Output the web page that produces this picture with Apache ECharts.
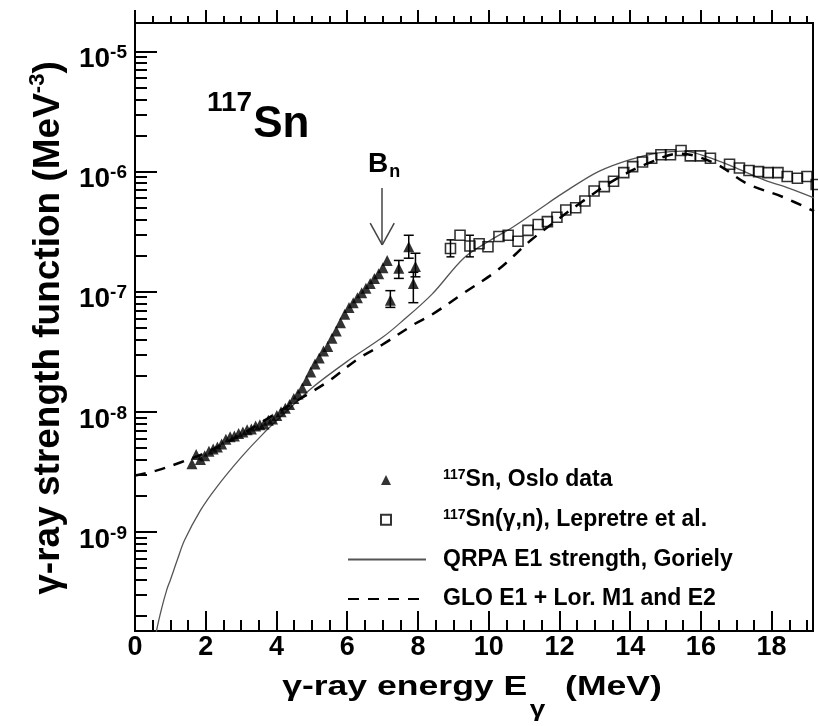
<!DOCTYPE html>
<html>
<head>
<meta charset="utf-8">
<script src="https://cdn.jsdelivr.net/npm/echarts@6/dist/echarts.min.js"></script>
<style>
  html, body { margin: 0; padding: 0; background: #fff; }
  #main { width: 818px; height: 726px; }
</style>
</head>
<body>
<div id="main"></div>
<script>
// 117Sn, Oslo data (E in MeV, f in MeV^-3)
const osloE = [1.61, 1.73, 1.85, 1.97, 2.09, 2.21, 2.33, 2.45, 2.57, 2.69, 2.81, 2.93, 3.05, 3.17, 3.29, 3.41,
  3.53, 3.65, 3.77, 3.89, 4.01, 4.13, 4.25, 4.37, 4.49, 4.61, 4.73, 4.85, 4.97, 5.09, 5.21, 5.33,
  5.45, 5.57, 5.69, 5.81, 5.93, 6.05, 6.17, 6.29, 6.41, 6.53, 6.65, 6.77, 6.89, 7.01, 7.13];
const osloF = [3.7e-9, 4.4e-9, 4.0e-9, 4.3e-9, 4.7e-9, 4.9e-9, 5.1e-9, 5.4e-9, 5.9e-9, 6.2e-9, 6.3e-9, 6.6e-9,
  6.8e-9, 7.1e-9, 7.2e-9, 7.6e-9, 7.8e-9, 7.9e-9, 8.5e-9, 8.7e-9, 9.3e-9, 1.0e-8, 1.07e-8, 1.15e-8,
  1.29e-8, 1.41e-8, 1.58e-8, 1.82e-8, 2.14e-8, 2.5e-8, 2.8e-8, 3.2e-8, 3.5e-8, 4.1e-8, 4.7e-8, 5.5e-8,
  6.5e-8, 7.4e-8, 8.1e-8, 8.9e-8, 9.8e-8, 1.07e-7, 1.17e-7, 1.29e-7, 1.41e-7, 1.58e-7, 1.82e-7];
// Oslo points above Bn, with error bars
const osloHiE = [7.22, 7.46, 7.74, 7.87, 7.93];
const osloHiF = [8.5e-8, 1.57e-7, 2.37e-7, 1.17e-7, 1.62e-7];
const osloHiLo = [7.4e-8, 1.29e-7, 1.9e-7, 8.1e-8, 1.33e-7];
const osloHiUp = [1.02e-7, 1.82e-7, 2.95e-7, 1.45e-7, 2.09e-7];

// 117Sn(g,n), Lepretre et al.
const lepE = [8.92, 9.19, 9.47, 9.73, 9.98, 10.29, 10.55, 10.83, 11.11, 11.40, 11.66, 11.93, 12.18, 12.46,
  12.72, 12.98, 13.27, 13.53, 13.82, 14.07, 14.35, 14.61, 14.87, 15.14, 15.44, 15.70, 15.99, 16.27,
  16.81, 17.09, 17.36, 17.63, 17.90, 18.18, 18.44, 18.73, 19.00, 19.26];
const lepF = [2.29e-7, 2.95e-7, 2.4e-7, 2.51e-7, 2.37e-7, 2.88e-7, 2.95e-7, 2.63e-7, 3.24e-7, 3.63e-7, 3.83e-7,
  4.17e-7, 4.79e-7, 5.0e-7, 5.69e-7, 6.9e-7, 7.5e-7, 8.3e-7, 9.8e-7, 1.10e-6, 1.20e-6, 1.29e-6, 1.38e-6,
  1.38e-6, 1.50e-6, 1.35e-6, 1.35e-6, 1.29e-6, 1.15e-6, 1.07e-6, 1.02e-6, 1.0e-6, 9.8e-7, 9.8e-7, 9.1e-7,
  8.8e-7, 9.1e-7, 7.8e-7];
const lepErrE = [8.92, 9.47];
const lepErrLo = [1.95e-7, 1.95e-7];
const lepErrUp = [2.7e-7, 2.95e-7];

// QRPA E1 strength, Goriely
const qrpaE = [0.55, 0.61, 0.75, 0.9, 1.0, 1.2, 1.4, 1.85, 2.3, 3.0, 3.6, 4.3, 5.0, 6.0, 7.0, 7.5, 8.4, 9.3,
  10.0, 10.7, 11.4, 12.1, 13.1, 14.0, 14.8, 15.5, 16.2, 16.9, 17.8, 18.5, 19.2];
const qrpaF = [1.12e-10, 1.51e-10, 2.29e-10, 3.31e-10, 3.98e-10, 5.89e-10, 8.51e-10, 1.51e-9, 2.34e-9, 4.17e-9,
  6.46e-9, 1.02e-8, 1.58e-8, 2.63e-8, 4.17e-8, 5.5e-8, 9.55e-8, 1.91e-7, 2.63e-7, 3.47e-7, 4.79e-7,
  6.61e-7, 1.0e-6, 1.26e-6, 1.43e-6, 1.48e-6, 1.32e-6, 1.10e-6, 8.5e-7, 7.24e-7, 6.03e-7];

// GLO E1 + Lor. M1 and E2
const gloE = [0, 0.6, 1.3, 2.0, 3.0, 4.0, 4.9, 5.5, 6.3, 7.0, 7.9, 8.4, 9.3, 10.25, 11.2, 11.95, 12.6, 13.55,
  14.5, 15.4, 16.4, 17.3, 18.3, 19.2];
const gloF = [2.95e-9, 3.24e-9, 3.8e-9, 4.57e-9, 6.46e-9, 9.77e-9, 1.41e-8, 1.82e-8, 2.75e-8, 3.63e-8, 5.37e-8,
  6.46e-8, 9.77e-8, 1.51e-7, 2.69e-7, 3.98e-7, 5.5e-7, 8.5e-7, 1.17e-6, 1.41e-6, 1.17e-6, 7.94e-7,
  6.17e-7, 4.68e-7];

// Bn arrow (E, top, tip) and arrow-head base
const bnE = 6.99;
const bnTop = 7.3e-7, bnTip = 2.45e-7, bnHead = 3.73e-7, bnHalf = 0.34;

// axes
const xMax = 19.17;
const xTicks = [0, 2, 4, 6, 8, 10, 12, 14, 16, 18];
const yDecades = [-9, -8, -7, -6, -5];   // log10 of 10^-9 .. 10^-5
const yMin = -9.825, yMax = -4.763;

const FF = '"Liberation Sans", Arial, Helvetica, sans-serif';
const lg = v => Math.log10(v);
const pts = (xs, ys) => xs.map((x, i) => [x, lg(ys[i])]);

let xMinor = [];
for (let i = 1; i * 0.5 <= xMax; i++) if (i % 4) xMinor.push(i * 0.5);
let yMinor = [];
for (let n = -10; n <= -5; n++) {
  for (let k = 2; k <= 9; k++) {
    let v = n + Math.log10(k);
    if (v > yMin && v < yMax) yMinor.push(v);
  }
}

function errBar(half) {
  return function (params, api) {
    let x = api.value(0);
    let a = api.coord([x, api.value(1)]);
    let b = api.coord([x, api.value(2)]);
    let st = { stroke: '#000', lineWidth: 1.5 };
    return {
      type: 'group',
      children: [
        { type: 'line', shape: { x1: a[0], y1: a[1], x2: b[0], y2: b[1] }, style: st },
        { type: 'line', shape: { x1: a[0] - half, y1: a[1], x2: a[0] + half, y2: a[1] }, style: st },
        { type: 'line', shape: { x1: b[0] - half, y1: b[1], x2: b[0] + half, y2: b[1] }, style: st }
      ]
    };
  };
}

const tickStyle = { color: '#000', width: 2 };
const baseX = { type: 'value', min: 0, max: xMax, axisLine: { show: false }, splitLine: { show: false } };
const baseY = { type: 'value', min: yMin, max: yMax, axisLine: { show: false }, splitLine: { show: false } };

const legendText = {
  'Oslo': '{sup|117}Sn, Oslo data',
  'Lepretre': '{sup|117}Sn(γ,n), Lepretre et al.',
  'QRPA': 'QRPA E1 strength, Goriely',
  'GLO': 'GLO E1 + Lor. M1 and E2'
};
const legendFont = {
  fontSize: 23, fontWeight: 'bold', fontFamily: FF, color: '#000', lineHeight: 24,
  rich: {
    sup: { fontSize: 14, fontWeight: 'bold', fontFamily: FF, color: '#000', verticalAlign: 'top', lineHeight: 24 }
  }
};
const noDot = { color: 'rgba(0,0,0,0)', borderWidth: 0, opacity: 0 };

const arrowSeg = (a, b) => [{ coord: a }, { coord: b }];

let option = {
  animation: false,
  backgroundColor: '#fff',
  grid: {
    left: 135, right: 5, top: 23, bottom: 95,
    show: true, borderColor: '#000', borderWidth: 2, backgroundColor: 'transparent'
  },
  xAxis: [
    Object.assign({}, baseX, {
      position: 'bottom',
      axisTick: { inside: true, length: 20, customValues: xTicks, lineStyle: tickStyle },
      axisLabel: { customValues: xTicks, fontSize: 27, fontWeight: 'bold', fontFamily: FF, color: '#000', margin: 3 }
    }),
    Object.assign({}, baseX, {
      position: 'bottom',
      axisTick: { inside: true, length: 11, customValues: xMinor, lineStyle: tickStyle },
      axisLabel: { show: false }
    }),
    Object.assign({}, baseX, {
      position: 'top',
      axisTick: { inside: false, length: 13, customValues: xTicks, lineStyle: tickStyle },
      axisLabel: { show: false }
    }),
    Object.assign({}, baseX, {
      position: 'top',
      axisTick: { inside: false, length: 7, customValues: xMinor, lineStyle: tickStyle },
      axisLabel: { show: false }
    })
  ],
  yAxis: [
    Object.assign({}, baseY, {
      position: 'left',
      axisTick: { inside: true, length: 22, customValues: yDecades, lineStyle: tickStyle },
      axisLabel: {
        customValues: yDecades,
        margin: 8,
        padding: [14, 0, 0, 0],
        formatter: v => '{b|10}{s|' + v + '}',
        rich: {
          b: { fontSize: 28, lineHeight: 30, fontWeight: 'bold', fontFamily: FF, color: '#000', verticalAlign: 'bottom' },
          s: { fontSize: 19, lineHeight: 19, fontWeight: 'bold', fontFamily: FF, color: '#000', verticalAlign: 'top' }
        }
      }
    }),
    Object.assign({}, baseY, {
      position: 'left',
      axisTick: { inside: true, length: 12, customValues: yMinor, lineStyle: tickStyle },
      axisLabel: { show: false }
    })
  ],
  legend: [
    {
      orient: 'vertical', left: 375, top: 463,
      itemWidth: 10, itemHeight: 10, itemGap: 15.7,
      data: [{ name: 'Oslo', icon: 'triangle' }, { name: 'Lepretre', icon: 'rect' }],
      formatter: name => legendText[name],
      textStyle: Object.assign({ padding: [0, 0, 0, 47] }, legendFont)
    },
    {
      orient: 'vertical', left: 342, top: 542.4,
      itemWidth: 78, itemHeight: 10, itemGap: 15.7,
      data: [{ name: 'QRPA', itemStyle: noDot }, { name: 'GLO', itemStyle: noDot }],
      formatter: name => legendText[name],
      textStyle: Object.assign({ padding: [0, 0, 0, 12] }, legendFont)
    }
  ],
  graphic: [
    {
      type: 'text', x: 207, y: 89,
      style: {
        text: '{a|117}{b|Sn}', verticalAlign: 'top', align: 'left',
        rich: {
          a: { fontSize: 28, fontWeight: 'bold', fontFamily: FF, fill: '#000', verticalAlign: 'top' },
          b: { fontSize: 44, fontWeight: 'bold', fontFamily: FF, fill: '#000', verticalAlign: 'top', padding: [14, 0, 0, 1] }
        }
      }
    },
    {
      type: 'text', x: 368, y: 150.5,
      style: {
        text: '{b|B}{n|n}', verticalAlign: 'top', align: 'left',
        rich: {
          b: { fontSize: 28, fontWeight: 'bold', fontFamily: FF, fill: '#000', verticalAlign: 'top' },
          n: { fontSize: 18, fontWeight: 'bold', fontFamily: FF, fill: '#000', verticalAlign: 'top', padding: [13, 0, 0, 1] }
        }
      }
    },
    {
      type: 'text', x: 47, y: 328, rotation: Math.PI / 2,
      style: {
        text: '{t|γ-ray strength function (MeV}{s|-3}{t|)}', align: 'center', verticalAlign: 'middle',
        rich: {
          t: { fontSize: 37, lineHeight: 40, fontWeight: 'bold', fontFamily: FF, fill: '#000', verticalAlign: 'bottom' },
          s: { fontSize: 22, lineHeight: 22, fontWeight: 'bold', fontFamily: FF, fill: '#000', verticalAlign: 'top' }
        }
      }
    },
    {
      type: 'text', x: 472, y: 673, scaleX: 1.27, originX: 0,
      style: {
        text: '{t|γ-ray energy E}{s|γ}{t|  (MeV)}', align: 'center', verticalAlign: 'top',
        rich: {
          t: { fontSize: 28, lineHeight: 34, fontWeight: 'bold', fontFamily: FF, fill: '#000', verticalAlign: 'top' },
          s: { fontSize: 22, lineHeight: 22, fontWeight: 'bold', fontFamily: FF, fill: '#000', verticalAlign: 'top', padding: [26, 0, 0, 2] }
        }
      }
    }
  ],
  series: [
    {
      name: 'QRPA', type: 'line', data: pts(qrpaE, qrpaF), smooth: 0.35, symbol: 'none',
      lineStyle: { color: '#555', width: 1.3 }, itemStyle: { color: '#555' }, z: 2
    },
    {
      name: 'GLO', type: 'line', data: pts(gloE, gloF), smooth: 0.35, symbol: 'none',
      lineStyle: { color: '#000', width: 2.5, type: [11, 9] }, itemStyle: { color: '#000' }, z: 2,
      markLine: {
        silent: true, symbol: ['none', 'none'],
        lineStyle: { color: '#444', width: 1.5, type: 'solid' },
        label: { show: false },
        data: [
          arrowSeg([bnE, lg(bnTop)], [bnE, lg(bnTip)]),
          arrowSeg([bnE - bnHalf, lg(bnHead)], [bnE, lg(bnTip)]),
          arrowSeg([bnE + bnHalf, lg(bnHead)], [bnE, lg(bnTip)])
        ]
      }
    },
    {
      name: 'Oslo', type: 'scatter', symbol: 'triangle', symbolSize: 11,
      data: pts(osloE, osloF).concat(pts(osloHiE, osloHiF)),
      itemStyle: { color: '#000' }, z: 4
    },
    {
      name: 'OsloErr', type: 'custom', renderItem: errBar(5),
      data: osloHiE.map((e, i) => [e, lg(osloHiLo[i]), lg(osloHiUp[i])]),
      encode: { x: 0, y: [1, 2] }, z: 3
    },
    {
      name: 'Lepretre', type: 'scatter', symbol: 'rect', symbolSize: 10, clip: false,
      data: pts(lepE, lepF),
      itemStyle: { color: 'rgba(255,255,255,0)', borderColor: '#000', borderWidth: 1.6 }, z: 4
    },
    {
      name: 'LepErr', type: 'custom', renderItem: errBar(4),
      data: lepErrE.map((e, i) => [e, lg(lepErrLo[i]), lg(lepErrUp[i])]),
      encode: { x: 0, y: [1, 2] }, z: 3
    }
  ]
};

let chart = echarts.init(document.getElementById('main'));
chart.setOption(option);
</script>
</body>
</html>
